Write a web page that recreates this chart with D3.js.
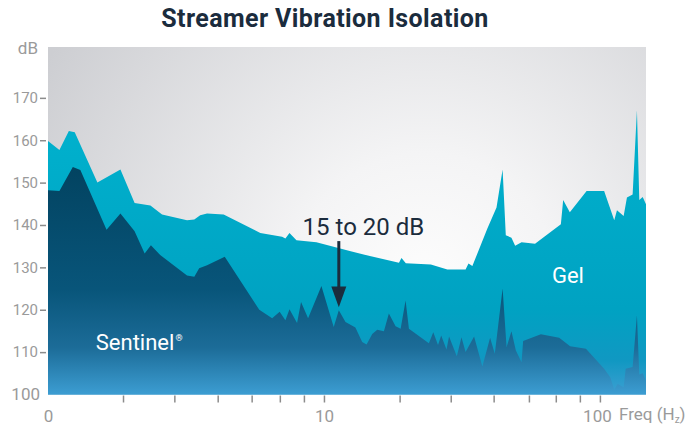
<!DOCTYPE html>
<html>
<head>
<meta charset="utf-8">
<script src="https://cdn.jsdelivr.net/npm/d3@7"></script>
<style>
  body { margin: 0; background: #fff; }
  text { font-family: Roboto, "Open Sans", sans-serif; }
</style>
</head>
<body>
<div id="chart"></div>
<script>
// Gel (upper) curve
var gelFreq = [1, 1.10, 1.19, 1.25, 1.51, 1.83, 2.06, 2.35, 2.59, 3.19, 3.39, 3.56, 3.77, 4.33, 5.88,
  7.05, 7.25, 7.50, 7.95, 9.39, 12.5, 14.8, 18.7, 19.1, 19.8, 24.4, 28.0, 32.6, 33.4, 34.5,
  39.1, 42.2, 44.4, 45.6, 47.8, 49.3, 52.0, 58.2, 72.2, 73.6, 77.8, 89.5, 103.6, 112.7, 115.3,
  121.9, 125.3, 131.4, 136.2, 138.9, 142.9, 146.9];
var gelDb = [159.8, 157.7, 162.2, 161.9, 150.0, 153.1, 145.2, 144.6, 142.5, 141.1, 141.3, 142.3, 142.7, 142.5, 138.1,
  137.2, 136.8, 138.1, 136.4, 135.9, 133.8, 132.6, 131.1, 132.2, 131.0, 130.7, 129.5, 129.5, 130.9, 130.3,
  139.2, 144.1, 153.1, 137.6, 137.0, 135.1, 135.9, 135.6, 140.2, 145.9, 143.0, 148.0, 148.0, 141.1, 143.5,
  142.1, 146.5, 147.2, 167.1, 145.9, 146.6, 144.9];

// Sentinel (lower) curve
var senFreq = [1, 1.10, 1.23, 1.31, 1.63, 1.83, 2.06, 2.24, 2.36, 2.55, 3.19, 3.39, 3.53, 3.77, 4.37,
  5.83, 6.49, 6.91, 7.25, 7.50, 7.99, 8.26, 8.76, 9.79, 10.85, 11.32, 11.97, 13.0, 13.76, 14.27,
  14.96, 15.6, 16.49, 17.19, 18.18, 18.96, 19.76, 20.32, 24.0, 24.9, 25.9, 26.6, 27.8, 28.4, 30.3,
  31.5, 32.6, 35.0, 37.5, 40.0, 41.6, 44.4, 45.9, 47.8, 49.6, 52.0, 52.7, 61.1, 71.2, 78.0,
  89.0, 103.6, 109.0, 112.7, 115.9, 121.9, 124.0, 131.4, 136.2, 138.9, 142.9, 146.9];
var senDb = [148.2, 148.0, 153.7, 153.0, 138.9, 142.7, 138.5, 133.3, 135.2, 132.9, 128.1, 127.8, 129.8, 130.5, 132.5,
  120.0, 118.0, 119.5, 117.5, 120.1, 116.9, 121.8, 118.0, 125.6, 115.9, 119.9, 117.1, 115.8, 112.4, 111.8,
  114.3, 115.3, 114.9, 119.1, 116.1, 115.5, 122.2, 115.5, 112.1, 114.7, 111.7, 113.9, 110.6, 113.7, 109.0,
  113.5, 110.0, 113.7, 106.6, 113.4, 109.6, 125.0, 111.2, 114.9, 110.4, 107.6, 112.6, 114.2, 113.4, 111.4,
  110.8, 106.1, 104.1, 101.1, 102.5, 101.7, 106.1, 106.5, 118.7, 104.7, 105.0, 103.3];

var yTicks = [100, 110, 120, 130, 140, 150, 160, 170];
var xLabelVals = [1, 10, 100];
var xLabels = ["0", "10", "100"];
var xMinorTicks = [1.87, 2.87, 4.12, 5.47, 6.92, 8.46, 10, 18.8, 28.8, 41.2, 55.3, 69.2, 84.6, 100];

var width = 699, height = 425;
var plotLeft = 48, plotRight = 646, plotTop = 47, plotBottom = 394.5;

var svg = d3.select("#chart").append("svg")
  .attr("width", width)
  .attr("height", height);

var x = d3.scaleLog().domain([1, 146.9]).range([plotLeft, plotRight]);
var y = d3.scaleLinear().domain([100, 182]).range([plotBottom, plotTop]);

var defs = svg.append("defs");

var bg = defs.append("radialGradient")
  .attr("id", "bgGrad")
  .attr("gradientUnits", "userSpaceOnUse")
  .attr("cx", 425).attr("cy", 285).attr("r", 440);
bg.append("stop").attr("offset", 0).attr("stop-color", "#fdfdfd");
bg.append("stop").attr("offset", 0.3).attr("stop-color", "#f4f4f5");
bg.append("stop").attr("offset", 1).attr("stop-color", "#cdced2");

var gelGrad = defs.append("linearGradient")
  .attr("id", "gelGrad")
  .attr("gradientUnits", "userSpaceOnUse")
  .attr("x1", 0).attr("x2", 0).attr("y1", 110).attr("y2", plotBottom);
gelGrad.append("stop").attr("offset", 0).attr("stop-color", "#00b2ce");
gelGrad.append("stop").attr("offset", 0.7).attr("stop-color", "#00a2c2");
gelGrad.append("stop").attr("offset", 0.88).attr("stop-color", "#1098c2");
gelGrad.append("stop").attr("offset", 1).attr("stop-color", "#3d9fd2");

var senGrad = defs.append("linearGradient")
  .attr("id", "senGrad")
  .attr("gradientUnits", "userSpaceOnUse")
  .attr("x1", 0).attr("x2", 0).attr("y1", 160).attr("y2", plotBottom);
senGrad.append("stop").attr("offset", 0).attr("stop-color", "#02425f");
senGrad.append("stop").attr("offset", 0.55).attr("stop-color", "#08557a");
senGrad.append("stop").attr("offset", 0.8).attr("stop-color", "#1c6c98");
senGrad.append("stop").attr("offset", 1).attr("stop-color", "#3c9dd2");

// plot background
svg.append("rect")
  .attr("x", plotLeft).attr("y", plotTop)
  .attr("width", plotRight - plotLeft).attr("height", plotBottom - plotTop)
  .style("fill", "url(#bgGrad)");

var area = d3.area()
  .x(function(d) { return x(d.f); })
  .y0(y(100))
  .y1(function(d) { return y(d.v); });

var gel = gelFreq.map(function(f, i) { return {f: f, v: gelDb[i]}; });
var sen = senFreq.map(function(f, i) { return {f: f, v: senDb[i]}; });

svg.append("path").datum(gel).attr("d", area).style("fill", "url(#gelGrad)");
svg.append("path").datum(sen).attr("d", area).style("fill", "url(#senGrad)");

// y axis
var yAxis = svg.append("g")
  .attr("transform", "translate(" + (plotLeft - 2) + ",0)")
  .call(d3.axisLeft(y).tickValues(yTicks).tickSize(6).tickPadding(2));
yAxis.select(".domain").remove();
yAxis.selectAll(".tick line").style("stroke", "#8c8c8c").style("stroke-width", 1.5);
yAxis.selectAll(".tick text")
  .style("font-size", "15px")
  .style("fill", "#9a9a9a")
  .style("font-family", "Roboto, sans-serif");
yAxis.selectAll(".tick").filter(function(d) { return d == 100; }).select("line").remove();
yAxis.selectAll(".tick").filter(function(d) { return d == 100; }).select("text")
  .style("font-size", "17px").attr("x", -6);

svg.append("text")
  .attr("x", 38).attr("y", 54)
  .attr("text-anchor", "end")
  .style("font-size", "17px")
  .style("fill", "#9a9a9a")
  .text("dB");

// x axis minor ticks
var xMinor = svg.append("g")
  .attr("transform", "translate(0," + (plotBottom + 1) + ")")
  .call(d3.axisBottom(x).tickValues(xMinorTicks).tickSize(7).tickFormat(""));
xMinor.select(".domain").remove();
xMinor.selectAll(".tick line").style("stroke", "#8c8c8c").style("stroke-width", 1.5);

// x axis labels
var xAxis = svg.append("g")
  .attr("transform", "translate(0," + (plotBottom + 1) + ")")
  .call(d3.axisBottom(x).tickValues(xLabelVals).tickSize(0).tickPadding(14)
    .tickFormat(function(d, i) { return xLabels[i]; }));
xAxis.select(".domain").remove();
xAxis.selectAll(".tick text")
  .style("font-size", "17px")
  .style("fill", "#9a9a9a")
  .style("font-family", "Roboto, sans-serif");
xAxis.selectAll(".tick text").filter(function(d) { return d == 100; }).attr("x", -3);

var freqLabel = svg.append("text")
  .attr("x", 619).attr("y", 420)
  .style("font-size", "17px")
  .style("fill", "#9a9a9a");
freqLabel.append("tspan").text("Freq (H");
freqLabel.append("tspan").attr("dy", 3).style("font-size", "10px").text("z");
freqLabel.append("tspan").attr("dy", -3).text(")");

// title
svg.append("text")
  .attr("x", 325).attr("y", 27)
  .attr("text-anchor", "middle")
  .style("font-size", "25px")
  .style("font-weight", "bold")
  .style("letter-spacing", "0.4px")
  .style("fill", "#1b2c3d")
  .text("Streamer Vibration Isolation");

// series labels
var senLabel = svg.append("text")
  .attr("x", x(1.49)).attr("y", y(110.4))
  .style("font-size", "22px")
  .style("fill", "#ffffff");
senLabel.append("tspan").text("Sentinel");
senLabel.append("tspan").attr("dy", -9).attr("dx", 1).style("font-size", "9px").text("®");

svg.append("text")
  .attr("x", x(67)).attr("y", y(126.2))
  .style("font-size", "22px")
  .style("fill", "#ffffff")
  .text("Gel");

// annotation
svg.append("text")
  .attr("x", x(13.9)).attr("y", y(137.6))
  .attr("text-anchor", "middle")
  .style("font-size", "24px")
  .style("fill", "#1b2c3d")
  .text("15 to 20 dB");

var ax = x(11.32);
svg.append("line")
  .attr("x1", ax).attr("x2", ax)
  .attr("y1", y(136.2)).attr("y2", y(124.5))
  .style("stroke", "#1b2c3d")
  .style("stroke-width", 3);
svg.append("path")
  .attr("d", "M" + (ax - 7.5) + "," + y(125.5) + "L" + (ax + 7.5) + "," + y(125.5) + "L" + ax + "," + y(120.6) + "Z")
  .style("fill", "#1b2c3d");
</script>
</body>
</html>
